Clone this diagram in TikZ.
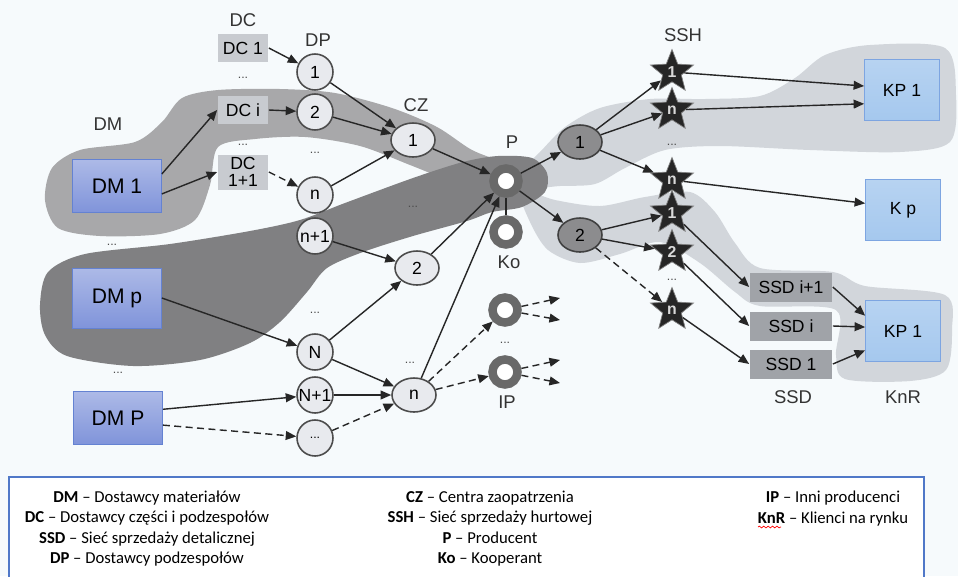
\documentclass[tikz,border=0pt]{standalone}
\usepackage{fontspec}
\setmainfont{Liberation Sans}
\newfontfamily\legendfont{Carlito}
\usepackage{tikz}
\usetikzlibrary{arrows.meta,shapes.geometric,decorations.pathmorphing}

\definecolor{paper}{RGB}{246,250,252}
\definecolor{blobdark}{RGB}{128,128,130}
\definecolor{blobmid}{RGB}{168,168,170}
\definecolor{bloblight}{RGB}{210,214,219}
\definecolor{dcgray}{RGB}{200,203,208}
\definecolor{ssdgray}{RGB}{160,163,168}
\definecolor{dmblue}{RGB}{128,148,218}
\definecolor{dmedge}{RGB}{100,130,210}
\definecolor{kpblue}{RGB}{165,200,238}
\definecolor{kpedge}{RGB}{125,165,225}
\definecolor{nodefill}{RGB}{232,234,238}
\definecolor{sshgray}{RGB}{140,140,142}
\definecolor{ringgray}{RGB}{105,105,105}
\definecolor{legendblue}{RGB}{80,120,200}

\tikzset{
  dmbox/.style={rectangle,draw=dmedge,top color=dmblue!65!white,bottom color=dmblue,
    minimum width=1.78cm,minimum height=1.05cm,font=\fontsize{12}{14}\selectfont},
  dcbox/.style={rectangle,fill=dcgray,minimum width=1.02cm,minimum height=0.56cm,
    inner sep=1pt,align=center,font=\fontsize{10}{10}\selectfont},
  ssdbox/.style={rectangle,fill=ssdgray,minimum width=1.66cm,minimum height=0.58cm,
    font=\fontsize{10}{12}\selectfont},
  kpbox/.style={rectangle,draw=kpedge,top color=kpblue!80!white,bottom color=kpblue,
    minimum width=1.5cm,minimum height=1.22cm,font=\fontsize{10}{12}\selectfont},
  dpnode/.style={circle,draw=black!70,fill=nodefill,line width=0.9pt,minimum size=0.72cm,
    inner sep=0pt,font=\fontsize{10}{12}\selectfont},
  cznode/.style={ellipse,draw=black!70,fill=nodefill,line width=0.9pt,minimum width=0.88cm,
    minimum height=0.68cm,inner sep=0pt,font=\fontsize{10}{12}\selectfont},
  sshnode/.style={cznode,fill=sshgray,draw=black!75},
  star5/.style={star,star points=5,star point ratio=2.3,minimum size=0.9cm,inner sep=0pt,
    fill=black!85,draw=black!50,text=white!85!black,font=\fontsize{9}{9}\selectfont\bfseries},
  ring/.style={circle,draw=ringgray,line width=0.17cm,fill=white,minimum size=0.5cm,
    inner sep=0pt,outer sep=0.085cm},
  dots/.style={text=black!70,font=\scriptsize},
  lbl/.style={text=black!80,font=\fontsize{10.5}{12}\selectfont},
  arr/.style={-{Triangle[length=6pt,width=5pt]},line width=0.8pt,draw=black!85},
  darr/.style={arr,dash pattern=on 4pt off 2.5pt},
  legendtext/.style={align=center,font=\legendfont\fontsize{9.5}{11.6}\selectfont}
}

\begin{document}
\begin{tikzpicture}[x=0.02cm,y=-0.02cm]
    \useasboundingbox (0,0) rectangle (958,576);
    \fill[paper] (0,0) rectangle (958,576);

    % Flows in the background
    \fill[bloblight] plot[smooth cycle] coordinates {(515,178) (540,152) (565,127) (600,108) (650,99)
        (705,99) (760,96) (795,78) (825,55) (870,45) (945,48) (956,95) (950,142) (900,152)
        (810,150) (720,146) (665,150) (625,168) (595,184) (560,186) (530,188)};
    \fill[bloblight] plot[smooth cycle] coordinates {(520,190) (555,200) (600,206) (645,197) (690,192)
        (715,212) (735,243) (760,268) (833,272) (865,286) (945,295) (952,330) (946,370)
        (910,381) (845,379) (836,355) (836,310) (760,306) (735,292) (700,263) (660,242)
        (620,254) (580,263) (548,250) (530,222)};
    \fill[blobmid] plot[smooth cycle] coordinates {(45,200) (52,168) (80,150) (135,142) (162,122)
        (182,98) (218,90) (280,89) (335,93) (392,108) (437,127) (472,150) (505,163) (525,175)
        (515,195) (490,195) (455,183) (410,165) (360,146) (305,137) (255,139) (218,147)
        (210,185) (195,220) (160,234) (100,236) (58,228)};
    \fill[blobdark] plot[smooth cycle] coordinates {(40,305) (48,272) (85,254) (170,244) (250,231)
        (300,220) (345,203) (413,178) (463,162) (498,156) (532,158) (547,173) (545,192)
        (522,207) (492,212) (467,221) (413,236) (363,252) (327,268) (307,292) (280,322)
        (250,343) (200,360) (133,366) (67,356) (45,335)};

    % Material suppliers
    \node[dmbox] (dm1) at (117,186) {DM 1};
    \node[dots] (dmd1) at (112,245) {...};
    \node[dmbox,minimum height=1.2cm] (dmp) at (117,298) {DM p};
    \node[dots] (dmd2) at (118,373) {...};
    \node[dmbox] (dmP) at (118,418) {DM P};

    % Parts suppliers
    \node[dcbox] (dc1) at (243,48) {DC 1};
    \node[dots] (dcd1) at (243,78) {...};
    \node[dcbox] (dci) at (243,110) {DC i};
    \node[dots] (dcd2) at (243,145) {...};
    \node[dcbox,minimum height=0.7cm] (dcii) at (243,172) {DC\\1+1};

    % Subassembly suppliers
    \foreach \n/\y/\t in {1/72/1,2/112/2,n/195/n,n1/236/n+1,N/352/N,N1/395/N+1} {
        \node[dpnode] (dp\n) at (315,\y) {\t};
    }
    \node[dpnode,font=\scriptsize] (dpx) at (315,438) {...};
    \node[dots] (dpd1) at (315,153) {...};
    \node[dots] (dpd2) at (315,313) {...};

    % Supply centres
    \node[cznode] (cz1) at (413,140) {1};
    \node[dots] (czd1) at (413,207) {...};
    \node[cznode] (cz2) at (417,268) {2};
    \node[dots] (czd2) at (410,363) {...};
    \node[cznode] (czn) at (414,395) {n};

    % Producer, co-operator, other producers
    \node[ring] (p) at (506,181) {};
    \node[ring] (ko) at (506,232) {};
    \node[ring] (ipa) at (505,310) {};
    \node[dots] (ipd) at (505,343) {...};
    \node[ring] (ipb) at (505,372) {};
    \coordinate (ipa1) at (560,298);
    \coordinate (ipa2) at (560,320);
    \coordinate (ipb1) at (560,360);
    \coordinate (ipb2) at (560,383);

    % Wholesale network
    \node[sshnode] (ssh1) at (580,142) {1};
    \node[sshnode] (ssh2) at (580,235) {2};
    \foreach \n/\y/\t in {a/72/1,b/110/n,c/180/n,d/213/1,e/252/2,f/310/n} {
        \node[star5] (st\n) at (672,\y) {\t};
    }
    \node[dots] (std1) at (672,145) {...};
    \node[dots] (std2) at (672,280) {...};

    % Retail network and customers
    \node[ssdbox] (ssdii) at (791,287) {SSD i+1};
    \node[ssdbox] (ssdi) at (791,326) {SSD i};
    \node[ssdbox] (ssd1) at (791,364) {SSD 1};
    \node[kpbox] (kp1) at (902,90) {KP 1};
    \node[kpbox] (kpp) at (903,210) {K p};
    \node[kpbox] (kpr) at (903,331) {KP 1};

    % Group labels
    \node[lbl] (ldm) at (108,124) {DM};
    \node[lbl] (ldc) at (243,20) {DC};
    \node[lbl] (ldp) at (318,40) {DP};
    \node[lbl] (lcz) at (416,105) {CZ};
    \node[lbl] (lp) at (512,142) {P};
    \node[lbl] (lko) at (509,262) {Ko};
    \node[lbl] (lip) at (507,402) {IP};
    \node[lbl] (lssh) at (683,35) {SSH};
    \node[lbl] (lssd) at (793,397) {SSD};
    \node[lbl] (lknr) at (903,397) {KnR};

    % Connections
    \draw[arr] (dm1.15) -- (dci.west);
    \draw[arr] (dm1.-10) -- (dcii.west);
    \draw[arr] (dc1.east) -- (dp1);
    \draw[arr] (dci.east) -- (dp2);
    \draw[darr] (dcii.east) -- (dpn);
    \draw[arr] (dmp.east) -- (dpN);
    \draw[arr] (dmP.11) -- (dpN1);
    \draw[darr] (dmP.-9) -- (dpx);
    \foreach \s in {dp1,dp2,dpn} {
        \draw[arr] (\s) -- (cz1);
    }
    \draw[arr] (dpn1) -- (cz2);
    \draw[arr] (dpN) -- (cz2);
    \draw[arr] (dpN) -- (czn);
    \draw[arr] (dpN1) -- (czn);
    \draw[darr] (dpx) -- (czn);
    \foreach \s in {cz1,cz2,czn} {
        \draw[arr] (\s) -- (p);
    }
    \draw[darr] (czn) -- (ipa);
    \draw[darr] (czn) -- (ipb);
    \foreach \r in {ipa,ipb} {
        \draw[darr] (\r) -- (\r1);
        \draw[darr] (\r) -- (\r2);
    }
    \draw[line width=0.8pt,black!85] (p) -- (ko);
    \draw[arr] (p) -- (ssh1);
    \draw[arr] (p) -- (ssh2);
    \foreach \s in {a,b,c} {
        \draw[arr] (ssh1) -- (st\s);
    }
    \draw[arr] (ssh2) -- (std);
    \draw[arr] (ssh2) -- (ste);
    \draw[darr] (ssh2) -- (stf);
    \draw[arr] (sta) -- (kp1.174);
    \draw[arr] (stb) -- (kp1.200);
    \draw[arr] (stc) -- (kpp.170);
    \draw[arr] (std) -- (ssdii.west);
    \draw[arr] (ste) -- (ssdi.west);
    \draw[arr] (stf) -- (ssd1.west);
    \draw[arr] (ssdii.east) -- (kpr.158);
    \draw[arr] (ssdi.east) -- (kpr.174);
    \draw[arr] (ssd1.east) -- (kpr.207);

    % Legend
    \draw[legendblue,fill=white,line width=0.6pt] (9,477) rectangle (924,600);
    \node[legendtext] (leg1) at (147,528.5) {\textbf{DM} – Dostawcy materiałów\\
        \textbf{DC} – Dostawcy części i podzespołów\\
        \textbf{SSD} – Sieć sprzedaży detalicznej\\
        \textbf{DP} – Dostawcy podzespołów};
    \node[legendtext] (leg2) at (490,528.5) {\textbf{CZ} – Centra zaopatrzenia\\
        \textbf{SSH} – Sieć sprzedaży hurtowej\\
        \textbf{P} – Producent\\
        \textbf{Ko} – Kooperant};
    \node[legendtext] (leg3) at (833,508.5) {\textbf{IP} – Inni producenci\\
        \textbf{KnR} – Klienci na rynku};
    \draw[red,decorate,decoration={snake,amplitude=0.5pt,segment length=2.5pt}] (758,527) -- (781,527);
\end{tikzpicture}
\end{document}
